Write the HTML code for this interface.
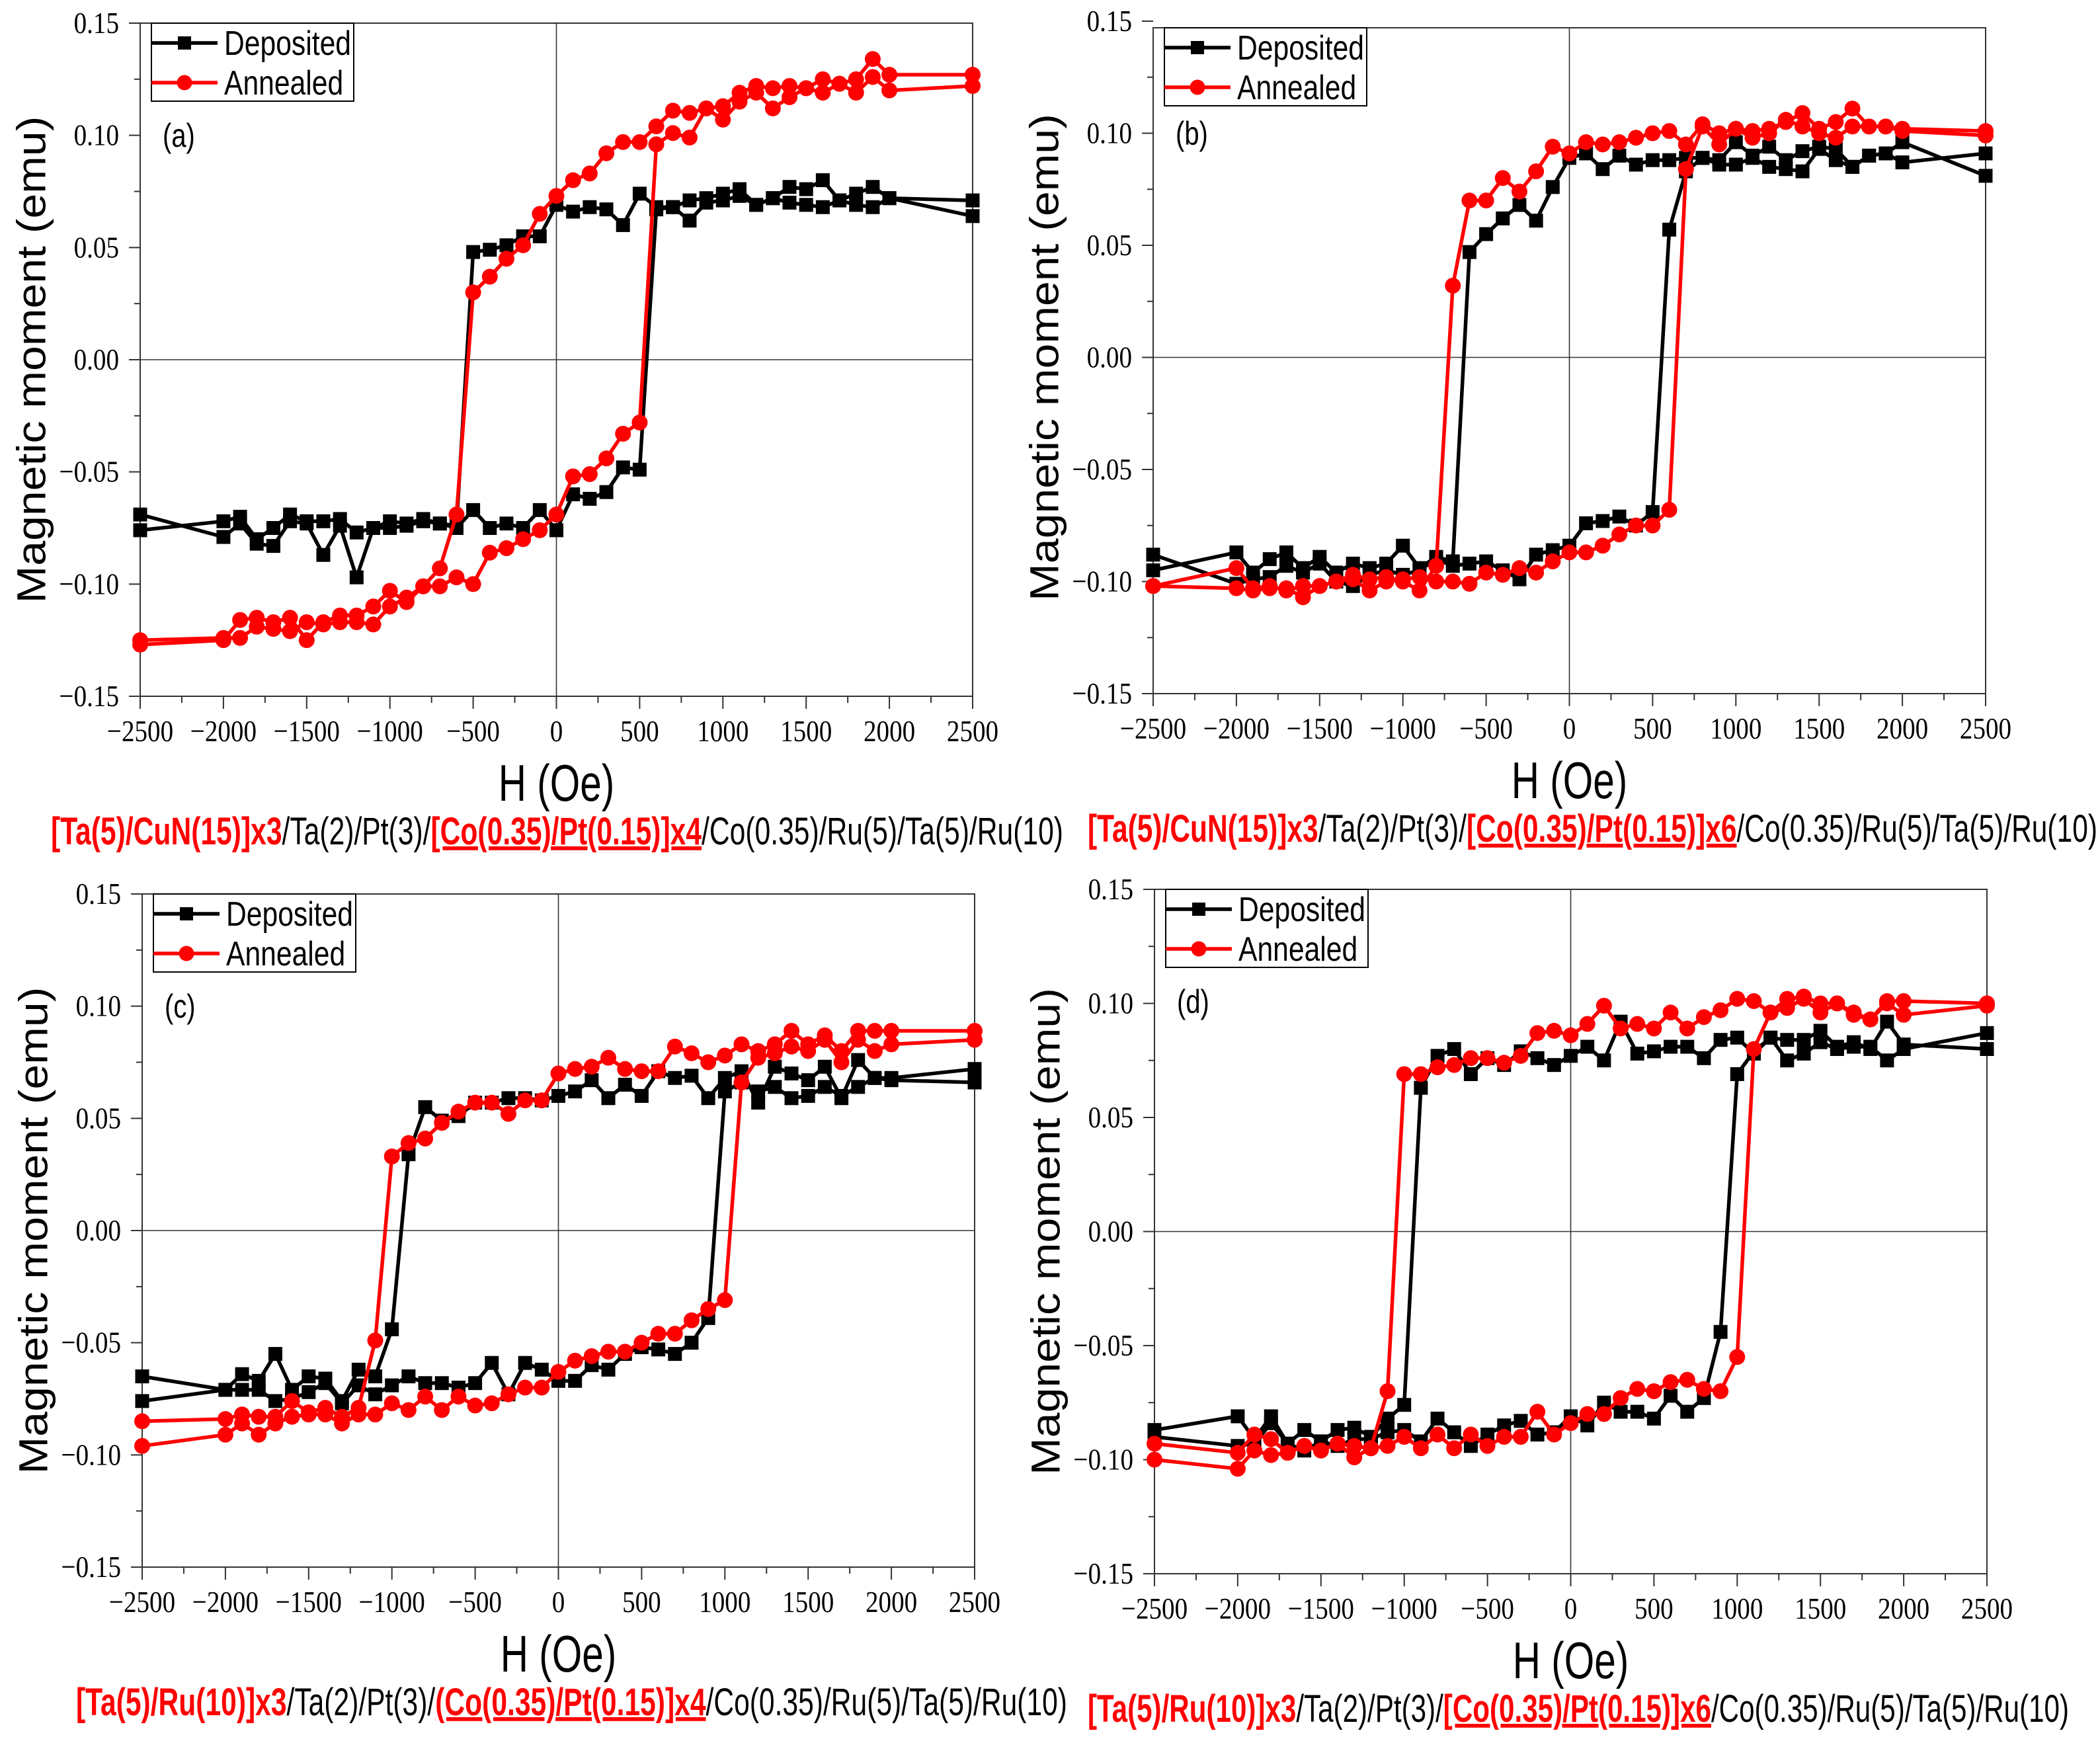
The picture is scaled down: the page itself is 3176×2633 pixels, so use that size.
<!DOCTYPE html>
<html><head><meta charset="utf-8"><style>
html,body{margin:0;padding:0;background:#fff}
svg{display:block}
</style></head><body>
<svg id="fig" width="3176" height="2633" viewBox="0 0 3176 2633" xmlns="http://www.w3.org/2000/svg"></svg>
<script>
const fieldDown=[2500,2000,1900,1800,1700,1600,1500,1400,1300,1200,1100,1000,900,800,700,600,500,400,300,200,100,0,-100,-200,-300,-400,-500,-600,-700,-800,-900,-1000,-1100,-1200,-1300,-1400,-1500,-1600,-1700,-1800,-1900,-2000,-2500];
const fieldUp=[-2500,-2000,-1900,-1800,-1700,-1600,-1500,-1400,-1300,-1200,-1100,-1000,-900,-800,-700,-600,-500,-400,-300,-200,-100,0,100,200,300,400,500,600,700,800,900,1000,1100,1200,1300,1400,1500,1600,1700,1800,1900,2000,2500];
const xTicks=[-2500,-2000,-1500,-1000,-500,0,500,1000,1500,2000,2500];
const yTicks=[0.15,0.10,0.05,0.00,-0.05,-0.10,-0.15];
const yTickLabels=["0.15","0.10","0.05","0.00","\u22120.05","\u22120.10","\u22120.15"];
const seriesNames=["Deposited","Annealed"];

// panel (a)
const aDepDown=[0.071,0.072, 0.077,0.074,0.071,0.080,0.076,0.077,0.072,0.069,0.076,0.074, 0.072,0.071,0.068,0.068,0.074,0.060,0.067,0.068,0.066,0.069, 0.055,0.055,0.051,0.049,0.048,-0.074,-0.073,-0.071,-0.073,-0.072, -0.075,-0.077,-0.071,-0.072,-0.072,-0.069,-0.075,-0.080,-0.070, -0.072,-0.076];
const aDepUp=[-0.069,-0.079, -0.073,-0.082,-0.083,-0.072,-0.073,-0.087,-0.074,-0.097,-0.075,-0.075, -0.074,-0.072,-0.073,-0.075,-0.067,-0.075,-0.073,-0.075,-0.067,-0.076, -0.060,-0.062,-0.059,-0.048,-0.049,0.067,0.068,0.062,0.070,0.071, 0.073,0.069,0.072,0.070,0.069,0.068,0.071,0.069,0.068, 0.072,0.064];
const aAnnDown=[0.127,0.127, 0.134,0.125,0.123,0.125,0.121,0.122,0.121,0.122,0.119,0.113, 0.112,0.110,0.111,0.104,0.097,0.097,0.092,0.083,0.080,0.073, 0.065,0.051,0.045,0.037,0.030,-0.069,-0.093,-0.101,-0.108,-0.103, -0.110,-0.114,-0.114,-0.117,-0.125,-0.115,-0.117,-0.115,-0.116, -0.125,-0.127];
const aAnnUp=[-0.125,-0.124, -0.124,-0.119,-0.120,-0.121,-0.117,-0.118,-0.117,-0.117,-0.118,-0.110, -0.106,-0.101,-0.101,-0.097,-0.100,-0.086,-0.084,-0.080,-0.076,-0.069, -0.052,-0.051,-0.044,-0.033,-0.028,0.096,0.101,0.099,0.112,0.107, 0.115,0.119,0.112,0.117,0.121,0.119,0.123,0.119,0.126, 0.120,0.122];

// panel (b)
const bDepDown=[0.081,0.096, 0.091,0.090,0.085,0.093,0.094,0.092,0.088,0.094,0.090,0.096, 0.088,0.089,0.089,0.088,0.088,0.086,0.090,0.084,0.091,0.089, 0.076,0.061,0.068,0.062,0.055,0.047,-0.091,-0.089,-0.094,-0.084, -0.092,-0.094,-0.092,-0.096,-0.089,-0.094,-0.087,-0.090,-0.096, -0.087,-0.095];
const bDepUp=[-0.088,-0.101, -0.099,-0.098,-0.093,-0.096,-0.092,-0.100,-0.102,-0.097,-0.095,-0.097, -0.095,-0.090,-0.093,-0.092,-0.091,-0.095,-0.099,-0.088,-0.086,-0.084, -0.074,-0.073,-0.071,-0.075,-0.069,0.057,0.083,0.089,0.086,0.086, 0.089,0.085,0.084,0.083,0.093,0.088,0.085,0.090,0.091, 0.087,0.091];
const bAnnDown=[0.101,0.102, 0.103,0.103,0.111,0.105,0.102,0.109,0.105,0.102,0.101,0.102, 0.100,0.104,0.095,0.101,0.100,0.098,0.096,0.095,0.096,0.091, 0.094,0.083,0.074,0.080,0.070,0.070,0.032,-0.093,-0.104,-0.100, -0.098,-0.099,-0.097,-0.100,-0.102,-0.107,-0.103,-0.103,-0.104, -0.103,-0.102];
const bAnnUp=[-0.102,-0.094, -0.103,-0.102,-0.104,-0.102,-0.102,-0.100,-0.099,-0.104,-0.100,-0.099, -0.098,-0.100,-0.100,-0.101,-0.096,-0.097,-0.094,-0.096,-0.091,-0.087, -0.087,-0.084,-0.079,-0.075,-0.075,-0.068,0.084,0.103,0.095,0.102, 0.098,0.100,0.106,0.103,0.100,0.098,0.103,0.103,0.103, 0.101,0.099];

// panel (c)
const cDepDown=[0.066,0.067, 0.068,0.076,0.059,0.073,0.067,0.070,0.073,0.057,0.071,0.068, 0.059,0.069,0.068,0.071,0.060,0.065,0.059,0.067,0.062,0.060, 0.058,0.059,0.059,0.057,0.057,0.051,0.049,0.055,0.034,-0.044, -0.065,-0.062,-0.076,-0.066,-0.065,-0.071,-0.055,-0.067,-0.064, -0.071,-0.065];
const cDepUp=[-0.076,-0.071, -0.071,-0.071,-0.076,-0.075,-0.072,-0.068,-0.077,-0.069,-0.073,-0.069, -0.065,-0.068,-0.068,-0.070,-0.068,-0.059,-0.073,-0.059,-0.062,-0.067, -0.067,-0.060,-0.062,-0.055,-0.052,-0.053,-0.055,-0.050,-0.039,0.062, 0.066,0.062,0.064,0.059,0.060,0.064,0.060,0.064,0.068, 0.068,0.072];
const cAnnDown=[0.089,0.089, 0.089,0.089,0.080,0.087,0.083,0.089,0.083,0.080,0.083,0.078, 0.075,0.079,0.082,0.071,0.071,0.072,0.077,0.073,0.072,0.070, 0.058,0.058,0.052,0.057,0.057,0.053,0.048,0.041,0.039,0.033, -0.049,-0.079,-0.083,-0.079,-0.081,-0.076,-0.083,-0.083,-0.082, -0.084,-0.085];
const cAnnUp=[-0.096,-0.091, -0.086,-0.091,-0.086,-0.083,-0.082,-0.082,-0.086,-0.082,-0.082,-0.077, -0.080,-0.074,-0.080,-0.074,-0.078,-0.077,-0.073,-0.070,-0.070,-0.063, -0.058,-0.056,-0.054,-0.054,-0.050,-0.046,-0.046,-0.040,-0.035,-0.031, 0.066,0.077,0.079,0.082,0.080,0.085,0.075,0.085,0.080, 0.083,0.085];

// panel (d)
const dDepDown=[0.080,0.082, 0.092,0.080,0.083,0.081,0.088,0.084,0.084,0.085,0.078,0.085, 0.084,0.076,0.081,0.081,0.079,0.078,0.092,0.075,0.081,0.077, 0.073,0.076,0.079,0.073,0.076,0.069,0.080,0.077,0.063,-0.076, -0.082,-0.090,-0.086,-0.087,-0.092,-0.087,-0.093,-0.081,-0.091, -0.081,-0.087];
const dDepUp=[-0.090,-0.094, -0.093,-0.084,-0.093,-0.096,-0.092,-0.094,-0.091,-0.091,-0.088,-0.087, -0.092,-0.082,-0.088,-0.094,-0.089,-0.085,-0.083,-0.089,-0.088,-0.081, -0.085,-0.075,-0.079,-0.079,-0.082,-0.072,-0.079,-0.073,-0.044,0.069, 0.079,0.085,0.075,0.078,0.083,0.080,0.081,0.081,0.075, 0.080,0.087];
const dAnnDown=[0.100,0.101, 0.101,0.093,0.095,0.100,0.100,0.103,0.102,0.096,0.101,0.102, 0.097,0.094,0.089,0.096,0.089,0.091,0.089,0.099,0.091,0.086, 0.088,0.087,0.077,0.074,0.076,0.076,0.073,0.072,0.069,0.069, -0.070,-0.095,-0.094,-0.093,-0.096,-0.094,-0.097,-0.091,-0.089, -0.097,-0.093];
const dAnnUp=[-0.100,-0.104, -0.096,-0.098,-0.097,-0.094,-0.096,-0.093,-0.099,-0.095,-0.094,-0.090, -0.095,-0.089,-0.095,-0.089,-0.094,-0.090,-0.090,-0.079,-0.089,-0.084, -0.080,-0.080,-0.073,-0.069,-0.070,-0.066,-0.065,-0.069,-0.070,-0.055, 0.080,0.096,0.098,0.102,0.096,0.100,0.096,0.093,0.100, 0.095,0.099];

const NS="http://www.w3.org/2000/svg";
const svg=document.getElementById('fig');
function mk(tag,attrs,parent){const e=document.createElementNS(NS,tag);for(const k in attrs)e.setAttribute(k,attrs[k]);(parent||svg).appendChild(e);return e;}

const panels=[
 {id:'a',L:212,R:1471,T:35,B:1053,FT:35,dep:[aDepDown,aDepUp],ann:[aAnnDown,aAnnUp],capX:77,capW:1531,
  cap:[['[Ta(5)/CuN(15)]x3',1,0],['/Ta(2)/Pt(3)/',0,0],['[Co(0.35)/Pt(0.15)]x4',1,1],['/Co(0.35)/Ru(5)/Ta(5)/Ru(10)',0,0]]},
 {id:'b',L:1744,R:3003,T:32,B:1049,FT:42,dep:[bDepDown,bDepUp],ann:[bAnnDown,bAnnUp],capX:1645,capW:1527,
  cap:[['[Ta(5)/CuN(15)]x3',1,0],['/Ta(2)/Pt(3)/',0,0],['[Co(0.35)/Pt(0.15)]x6',1,1],['/Co(0.35)/Ru(5)/Ta(5)/Ru(10)',0,0]]},
 {id:'c',L:215,R:1474,T:1352,B:2370,FT:1352,dep:[cDepDown,cDepUp],ann:[cAnnDown,cAnnUp],capX:115,capW:1499,
  cap:[['[Ta(5)/Ru(10)]x3',1,0],['/Ta(2)/Pt(3)/',0,0],['(Co(0.35)/Pt(0.15)]x4',1,1],['/Co(0.35)/Ru(5)/Ta(5)/Ru(10)',0,0]]},
 {id:'d',L:1746,R:3005,T:1345,B:2380,FT:1345,dep:[dDepDown,dDepUp],ann:[dAnnDown,dAnnUp],capX:1645,capW:1484,
  cap:[['[Ta(5)/Ru(10)]x3',1,0],['/Ta(2)/Pt(3)/',0,0],['[Co(0.35)/Pt(0.15)]x6',1,1],['/Co(0.35)/Ru(5)/Ta(5)/Ru(10)',0,0]]}
];

function stxt(parent,x,y,str,size,family,anchor,sx,fill){
  const g=mk('g',{transform:`translate(${x},${y}) scale(${sx},1)`},parent);
  const t=mk('text',{x:0,y:0,'font-size':size,'font-family':family,'text-anchor':anchor,fill:fill||'#000'},g);
  t.textContent=str;return t;
}

panels.forEach(p=>{
  const g=mk('g',{});
  
  
  const xs=h=>p.L+(h+2500)/5000*(p.R-p.L);
  const ys=m=>p.T+(0.15-m)/0.30*(p.B-p.T);
  const fr=mk('rect',{x:p.L,y:p.FT,width:p.R-p.L,height:p.B-p.FT,fill:'none',stroke:'#333',"stroke-width":2},g);
  
  
  const zx=mk('line',{x1:p.L,x2:p.R,y1:ys(0),y2:ys(0),stroke:'#333','stroke-width':1.6},g);
  
  
  const zy=mk('line',{x1:xs(0),x2:xs(0),y1:p.FT,y2:p.B,stroke:'#333','stroke-width':1.6},g);
  
  
  const xa=mk('g',{},g);
  
  
  xTicks.forEach((v,i)=>{
    mk('line',{x1:xs(v),x2:xs(v),y1:p.B,y2:p.B+19,stroke:'#333','stroke-width':2},xa);
    if(i<xTicks.length-1) mk('line',{x1:xs(v+250),x2:xs(v+250),y1:p.B,y2:p.B+10,stroke:'#333','stroke-width':2},xa);
    const t=stxt(xa,xs(v),p.B+68,v<0?'\u2212'+(-v):String(v),46,'Liberation Serif, serif','middle',0.85);
    
    
  });
  const ya=mk('g',{},g);
  
  
  yTicks.forEach((v,i)=>{
    mk('line',{x1:p.L-17,x2:p.L,y1:ys(v),y2:ys(v),stroke:'#333','stroke-width':2},ya);
    if(i<yTicks.length-1) mk('line',{x1:p.L-9,x2:p.L,y1:ys(v-0.025),y2:ys(v-0.025),stroke:'#333','stroke-width':2},ya);
    const t=stxt(ya,p.L-32,ys(v)+15,yTickLabels[i],46,'Liberation Serif, serif','end',0.85);
    
    
  });
  const yt=mk('g',{transform:`translate(${p.L-165},${(p.T+p.B)/2}) rotate(-90) scale(1,0.9)`},g);
  const ytt=mk('text',{x:0,y:24,'font-size':68,'font-family':'Liberation Sans, sans-serif','text-anchor':'middle'},yt);
  ytt.textContent='Magnetic moment (emu)';
  
  
  const xt=stxt(g,(p.L+p.R)/2,p.B+158,'H (Oe)',78,'Liberation Sans, sans-serif','middle',0.75);
  
  
  const pl=stxt(g,p.L+34,p.T+187,'('+p.id+')',50,'Liberation Sans, sans-serif','start',0.8);
  
  
  const sets=[[p.dep,'#000','square',seriesNames[0]],[p.ann,'#ff0000','circle',seriesNames[1]]];
  sets.forEach(([branches,col,shape,name])=>{
    const sg=mk('g',{},g);
    
    
    [[fieldDown,branches[0]],[fieldUp,branches[1]]].forEach(([H,M])=>{
      const pts=H.map((h,i)=>xs(h).toFixed(1)+','+ys(M[i]).toFixed(1)).join(' ');
      const pl2=mk('polyline',{points:pts,fill:'none',stroke:col,'stroke-width':5.5,'stroke-linejoin':'round'},sg);
      
      
      H.forEach((h,i)=>{
        let m;
        if(shape==='square') m=mk('rect',{x:xs(h)-10.5,y:ys(M[i])-10.5,width:21,height:21,fill:col},sg);
        else m=mk('circle',{cx:xs(h),cy:ys(M[i]),r:12,fill:col},sg);
        
        
      });
    });
  });
  const lg=mk('g',{},g);
  
  
  const bx=p.L+17, by=p.FT, bw=306, bh=118;
  mk('rect',{x:bx,y:by,width:bw,height:bh,fill:'#fff',stroke:'#000','stroke-width':2},lg);
  sets.forEach(([br,col,shape,name],k)=>{
    const ly=by+30+k*60;
    const e=mk('g',{},lg);
    
    
    mk('line',{x1:bx,x2:bx+100,y1:ly,y2:ly,stroke:col,'stroke-width':5.5},e);
    if(shape==='square') mk('rect',{x:bx+40,y:ly-10,width:20,height:20,fill:col},e);
    else mk('circle',{cx:bx+50,cy:ly,r:11.5,fill:col},e);
    stxt(e,bx+110,ly+18,name,52,'Liberation Sans, sans-serif','start',0.82);
  });
  const ct=mk('text',{x:p.capX,y:p.B+224,'font-size':58,'font-family':'Liberation Sans, sans-serif',textLength:p.capW,lengthAdjust:'spacingAndGlyphs'},g);
  
  
  p.cap.forEach(([s,red,ul])=>{
    const ts=mk('tspan',{fill:red?'#ff0000':'#000','font-weight':red?'bold':'normal'},ct);
    if(ul) ts.setAttribute('text-decoration','underline');
    ts.textContent=s;
  });
});
</script>
</body></html>
